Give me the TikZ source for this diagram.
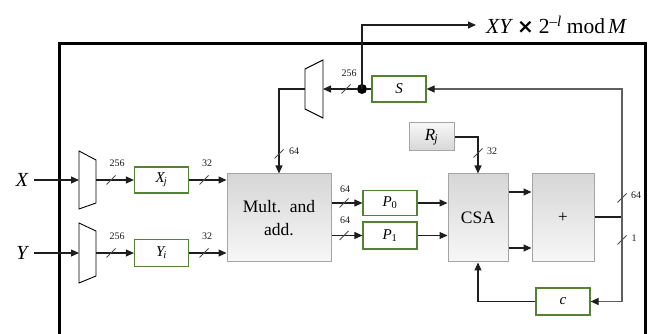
\documentclass[tikz,border=0pt]{standalone}
\usepackage{fontspec}
\setmainfont{Liberation Serif}
\newfontfamily\symfont{DejaVu Sans}
\usetikzlibrary{arrows.meta,calc}
\definecolor{gboxc}{RGB}{84,130,53}
\definecolor{grayb}{RGB}{165,165,165}
\definecolor{wirec}{RGB}{30,30,30}
\definecolor{fbc}{RGB}{95,95,95}
\begin{document}
\begin{tikzpicture}[x=1pt,y=-1pt,
  wire/.style={line width=1.1pt, draw=wirec},
  arr/.style={wire, -{Triangle[length=8pt,width=7pt]}},
  arrg/.style={line width=1.2pt, draw=fbc, -{Triangle[length=8pt,width=7pt,color=wirec,fill=wirec]}},
  slashline/.style={line width=0.9pt, draw=black!70},
  busmark/.pic={\draw[slashline] (-4.5,4.5) -- (4.5,-4.5);},
  lbl/.style={font=\fontsize{10}{10}\selectfont, inner sep=0pt, text=black!90},
  gbox/.style={draw=gboxc, line width=1.2pt, fill=white, inner sep=0pt,
    minimum width=54pt, minimum height=26pt, font=\fontsize{15}{15}\selectfont\itshape},
  blk/.style={draw=grayb, line width=1pt, top color=black!16, bottom color=black!3,
    inner sep=0pt, minimum height=88pt, font=\fontsize{17.5}{23}\selectfont, align=center},
  mux/.style={draw=black, line width=0.9pt, fill=white},
  iolbl/.style={font=\fontsize{20}{20}\selectfont\itshape, inner sep=0pt}
]
\useasboundingbox (0,0) rectangle (649,334);

% outer frame
\draw[line width=3pt] (59,345) -- (59,44) -- (645,44) -- (645,345);

% inputs
\node[iolbl] (X) at (22,180) {X};
\node[iolbl] (Y) at (22,253) {Y};

% multiplexers
\draw[mux] (79,151) -- (96,160) -- (96,203) -- (79,209) -- cycle;
\coordinate (mxXin) at (79,180); \coordinate (mxXout) at (96,180);
\draw[mux] (79,223) -- (96,231) -- (96,276) -- (79,283) -- cycle;
\coordinate (mxYin) at (79,253); \coordinate (mxYout) at (96,253);
\draw[mux] (305,69) -- (323,60) -- (323,118) -- (305,109) -- cycle;
\coordinate (mxSin) at (323,89); \coordinate (mxSout) at (305,89);

% registers
\node[gbox] (Xj) at (161.5,180) {X\textsubscript{\kern-1pt j}};
\node[gbox, minimum height=27pt] (Yi) at (161.5,253) {Y\textsubscript{\kern-1pt i}};
\node[gbox] (S) at (399,89) {S};
\node[gbox, minimum height=25pt] (P0) at (390,203) {P\textsubscript{\upshape 0}};
\node[gbox, minimum height=27pt] (P1) at (390,235.5) {P\textsubscript{\upshape 1}};
\node[gbox, minimum height=27pt] (c) at (563,301.5) {c};
\node[draw=grayb, line width=1pt, top color=black!3, bottom color=black!16,
  minimum width=45pt, minimum height=28pt, inner sep=0pt,
  font=\fontsize{17}{17}\selectfont\itshape] (Rj) at (431.5,137) {R\textsubscript{\kern-1pt j}};

% blocks
\node[blk, minimum width=104pt] (Mult) at (279,218) {Mult.\ \ and\\add.};
\node[blk, minimum width=60pt] (CSA) at (478,218) {CSA};
\node[blk, minimum width=62pt, font=\fontsize{17}{17}\selectfont] (plus) at (563,218) {+};

% output
\node[anchor=west, inner xsep=10pt, inner ysep=0pt, font=\fontsize{21.5}{21.5}\selectfont] (out) at (476,25)
  {\textit{XY}\kern4pt{\symfont\bfseries\itshape\fontsize{20}{20}\selectfont ×}\kern5pt 2\textsuperscript{–\textit{l}}\kern5pt mod\kern3pt\textit{M}};

% input wires
\draw[arr] ([xshift=6pt]X.east) -- (mxXin);
\draw[arr] ([xshift=6pt]Y.east) -- (mxYin);
\draw[arr] (mxXout) -- (Xj.west);
\draw[arr] (mxYout) -- (Yi.west);
\draw[arr] (Xj.east) -- (Mult.west |- Xj.east);
\draw[arr] (Yi.east) -- (Mult.west |- Yi.east);
\draw[arr] (Mult.east |- P0.west) -- (P0.west);
\draw[arr] (Mult.east |- P1.west) -- (P1.west);
\draw[arr] (P0.east) -- (CSA.west |- P0.east);
\draw[arr] (P1.east) -- (CSA.west |- P1.east);
\draw[arr] (CSA.east |- 0,192) -- (plus.west |- 0,192);
\draw[arr] (CSA.east |- 0,248) -- (plus.west |- 0,248);
\draw[arr] (Rj.east) -| (CSA.north);
\draw[arr] (c.west) -| (CSA.south);
\draw[arr] (mxSout) -| (Mult.north);

% feedback
\coordinate (tap) at (622,217);
\coordinate (fbtop) at (622,89);
\coordinate (fbbot) at (622,301.5);
\draw[wire] (plus.east |- tap) -- (tap);
\draw[arrg] (tap) -- (fbtop) -- (S.east);
\draw[arrg] (tap) -- (fbbot) -- (c.east);

% S to mux and output
\node[circle, fill=black, inner sep=0pt, minimum size=10pt] (dot) at (362,89) {};
\draw[wire] (S.west) -- (dot);
\draw[arr] (dot) -- (mxSin);
\draw[arr] (dot.center) |- (out.west);

% bus width marks
\path (111,180) pic{busmark} (204,180) pic{busmark}
      (111,253) pic{busmark} (204,253) pic{busmark}
      (344,203) pic{busmark} (344,235.5) pic{busmark}
      (346,89) pic{busmark} (279,154) pic{busmark}
      (478,153) pic{busmark} (622,198) pic{busmark} (622,240) pic{busmark};
\node[lbl] (l1) at (117,163) {256};
\node[lbl] (l2) at (207,163) {32};
\node[lbl] (l3) at (117,236) {256};
\node[lbl] (l4) at (207,236) {32};
\node[lbl] (l5) at (345,189) {64};
\node[lbl] (l6) at (345,220) {64};
\node[lbl] (l7) at (349,73) {256};
\node[lbl] (l8) at (294,151) {64};
\node[lbl] (l9) at (492,151) {32};
\node[lbl] (l10) at (636,195) {64};
\node[lbl] (l11) at (634,238) {1};
\end{tikzpicture}
\end{document}
